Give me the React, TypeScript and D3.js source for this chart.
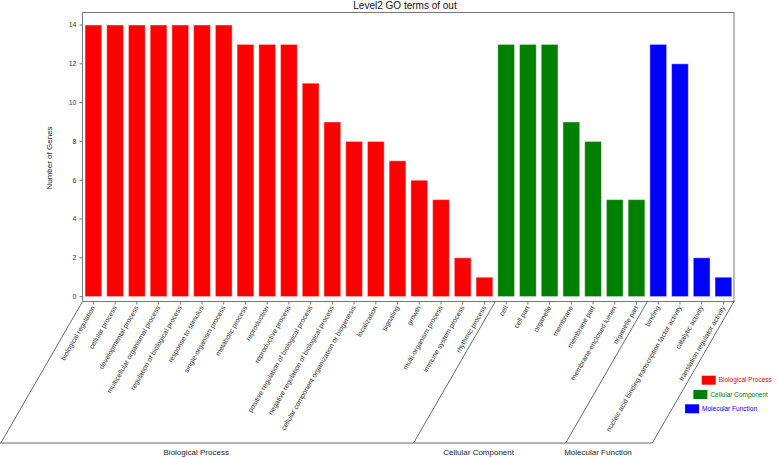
import React from "react";
import * as d3 from "d3";

const bpTerms = [
  "biological regulation", "cellular process", "developmental process",
  "multicellular organismal process", "regulation of biological process",
  "response to stimulus", "single-organism process", "metabolic process",
  "reproduction", "reproductive process", "positive regulation of biological process",
  "negative regulation of biological process", "cellular component organization or biogenesis",
  "localization", "signaling", "growth", "multi-organism process",
  "immune system process", "rhythmic process",
];
const bpValues = [14, 14, 14, 14, 14, 14, 14, 13, 13, 13, 11, 9, 8, 8, 7, 6, 5, 2, 1];
const ccTerms = ["cell", "cell part", "organelle", "membrane", "membrane part", "membrane-enclosed lumen", "organelle part"];
const ccValues = [13, 13, 13, 9, 8, 5, 5];
const mfTerms = ["binding", "nucleic acid binding transcription factor activity", "catalytic activity", "translation regulator activity"];
const mfValues = [13, 12, 2, 1];
const groupNames = ["Biological Process", "Cellular Component", "Molecular Function"];
const groupColors = ["#ff0000", "#008000", "#0000ff"];
const yTicks = [0, 2, 4, 6, 8, 10, 12, 14];
const title = "Level2 GO terms of out";
const yLabel = "Number of Genes";

export default function App() {
  const W = 777, H = 457;
  const axL = 82.5, axR = 734, axT = 12.5, axB = 301.5, bottom = 443;
  const groups = [
    { terms: bpTerms, values: bpValues },
    { terms: ccTerms, values: ccValues },
    { terms: mfTerms, values: mfValues },
  ];
  const data = groups.flatMap((g, gi) => g.terms.map((t, i) => ({ term: t, value: g.values[i], group: gi })));
  const x = d3.scaleBand<string>().domain(data.map((d) => d.term)).range([85, 731.8]).paddingInner(0.227).paddingOuter(0);
  const y = d3.scaleLinear().domain([0, 14]).range([296.6, 25]);
  const slant = (bottom - axB) / Math.tan(Math.PI / 3);
  const font = "Liberation Sans, Arial, sans-serif";

  // group boundaries at axis
  const bounds: number[] = [axL];
  let idx = 0;
  groups.forEach((g, gi) => {
    idx += g.terms.length;
    if (gi < groups.length - 1) {
      const a = x(data[idx - 1].term)! + x.bandwidth();
      const b = x(data[idx].term)!;
      bounds.push((a + b) / 2);
    }
  });
  bounds.push(axR);

  return (
    <svg width={W} height={H} style={{ position: "absolute", left: 0, top: 0 }} fontFamily={font}>
      <rect x={0} y={0} width={W} height={H} fill="#fff" />
      <text x={405} y={9} textAnchor="middle" fontSize={10} fill="#111">{title}</text>
      {/* bars */}
      {data.map((d) => (
        <rect key={d.term} x={x(d.term)} y={y(d.value)} width={x.bandwidth()} height={y(0) - y(d.value)}
          fill={groupColors[d.group]} stroke="#fff" strokeOpacity={0.45} strokeWidth={1} />
      ))}
      {/* frame */}
      <path d={`M${axL},${axB}V${axT}H${axR}V${axB}`} fill="none" stroke="#777" strokeWidth={1} />
      <line x1={axL} x2={axR} y1={axB} y2={axB} stroke="#777" />
      {/* y ticks */}
      {yTicks.map((t) => (
        <g key={t}>
          <line x1={axL - 3} x2={axL} y1={y(t)} y2={y(t)} stroke="#777" />
          <text x={axL - 6} y={y(t)} dy="0.35em" textAnchor="end" fontSize={7} fill="#333">{t}</text>
        </g>
      ))}
      <text transform={`translate(52,158) rotate(-90)`} textAnchor="middle" fontSize={8} fill="#222">{yLabel}</text>
      {/* x ticks and labels */}
      {data.map((d) => {
        const cx = x(d.term)! + x.bandwidth() / 2;
        return (
          <g key={d.term}>
            <line x1={cx} x2={cx} y1={axB} y2={axB + 3} stroke="#777" />
            <text transform={`translate(${cx + 2},${axB + 6}) rotate(-60)`} textAnchor="end" fontSize={7} fill="#333">{d.term}</text>
          </g>
        );
      })}
      {/* group slanted lines */}
      {bounds.map((b, i) => (
        <line key={i} x1={b} y1={axB} x2={b - slant} y2={bottom} stroke="#444" strokeWidth={0.8} />
      ))}
      <line x1={0} x2={bounds[bounds.length - 1] - slant} y1={bottom} y2={bottom} stroke="#444" strokeWidth={0.8} />
      {groupNames.map((n, i) => {
        const mid = (bounds[i] + bounds[i + 1]) / 2 - slant - 11;
        return <text key={n} x={mid} y={455} textAnchor="middle" fontSize={8} fill="#222">{n}</text>;
      })}
      {/* legend */}
      {groupNames.map((n, i) => {
        const lx = 701.7 - i * 8.3;
        const ly = 375.7 + i * 14.3;
        return (
          <g key={n}>
            <rect x={lx} y={ly} width={14} height={9} fill={groupColors[i]} />
            <text x={lx + 17} y={ly + 4.5} dy="0.35em" fontSize={6.5} fill={groupColors[i]}>{n}</text>
          </g>
        );
      })}
    </svg>
  );
}
